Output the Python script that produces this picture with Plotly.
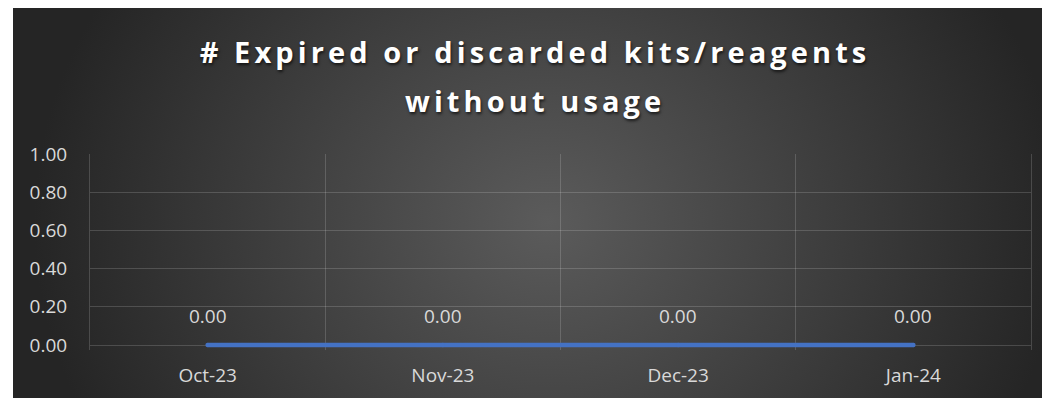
import base64
import plotly.graph_objects as go

# Monthly count of kits/reagents that expired or were discarded unused
months = ["Oct-23", "Nov-23", "Dec-23", "Jan-24"]
discarded = [0.00, 0.00, 0.00, 0.00]
y_ticks = [0.0, 0.2, 0.4, 0.6, 0.8, 1.0]
title_lines = ["# Expired or discarded kits/reagents", "without usage"]

W, H = 1042, 398
GRID = "rgba(255,255,255,0.16)"
LABEL = "#d9d9d9"
BLUE = "#4472C4"

# y runs from 0 (pixel row 345) to 1 (row 154); a small pad below 0 keeps
# the thick series line from being cut in half by the plot-area clip
Y_PAD = 0.025
PX_PER_UNIT = (345 - 154)
y_bottom_px = 345 + Y_PAD * PX_PER_UNIT

# Dark gradient chart background (bright centre, dark sides) as inline SVG
bg_svg = (
    "<svg xmlns='http://www.w3.org/2000/svg' width='1029' height='390' "
    "viewBox='0 0 1029 390' preserveAspectRatio='none'>"
    "<defs><radialGradient id='g' cx='0.52' cy='0.55' r='0.5' "
    "gradientTransform='translate(0.52 0.55) scale(1 2.3) translate(-0.52 -0.55)'>"
    "<stop offset='0' stop-color='#5b5b5b'/>"
    "<stop offset='1' stop-color='#252525'/>"
    "</radialGradient></defs>"
    "<rect width='1029' height='390' fill='url(#g)'/></svg>"
)
bg_uri = "data:image/svg+xml;base64," + base64.b64encode(bg_svg.encode()).decode()

fig = go.Figure()
fig.add_trace(go.Scatter(
    x=months, y=discarded,
    mode="lines+markers",
    line=dict(color=BLUE, width=4.5),
    marker=dict(color=BLUE, size=4.5),
    cliponaxis=False,
    hoverinfo="x+y",
    showlegend=False,
))

# Value labels above each point
for m, v in zip(months, discarded):
    fig.add_annotation(
        x=m, y=v, text=f"{v:.2f}", showarrow=False, yshift=29,
        font=dict(family="Open Sans", size=19, color=LABEL),
    )

fig.add_layout_image(dict(
    source=bg_uri, xref="paper", yref="paper",
    x=13 / W, y=390 / H, sizex=1029 / W, sizey=390 / H,
    xanchor="left", yanchor="top", sizing="stretch", layer="below",
))

title_font = dict(family="Open Sans", size=29, color="white", weight="bold",
                  shadow="1px 2px 3px rgba(0,0,0,0.65)")
spaced = '<span style="letter-spacing:4.1px">{}</span>'

# Second title line, set with the same font below the first
fig.add_annotation(
    text=spaced.format(title_lines[1]), showarrow=False,
    xref="paper", yref="paper", x=535 / W, y=1 - 101 / H,
    xanchor="center", yanchor="middle", font=title_font,
)

fig.update_layout(
    width=W, height=H,
    margin=dict(l=0, r=0, t=0, b=0, autoexpand=False),
    paper_bgcolor="white",
    plot_bgcolor="rgba(0,0,0,0)",
    title=dict(
        text=spaced.format(title_lines[0]),
        font=title_font,
        x=535 / W, xanchor="center", xref="paper",
        y=1 - 53 / H, yanchor="middle", yref="paper",
        automargin=False,
    ),
    xaxis=dict(
        type="category",
        domain=[90 / W, 1031 / W],
        range=[-0.5, 3.5],
        tickson="boundaries",
        showgrid=True, gridcolor=GRID, gridwidth=1,
        ticks="", showline=False, zeroline=False,
        tickfont=dict(family="Open Sans", size=19, color=LABEL),
        ticklabelstandoff=12,
        automargin=False,
        fixedrange=True,
    ),
    yaxis=dict(
        domain=[(H - y_bottom_px) / H, (H - 154) / H],
        range=[-Y_PAD, 1],
        tickvals=y_ticks,
        tickformat=".2f",
        showgrid=True, gridcolor=GRID, gridwidth=1,
        zeroline=False,
        showline=True, linecolor=GRID, linewidth=1, mirror=True,
        ticks="",
        tickfont=dict(family="Open Sans", size=19, color=LABEL),
        ticklabelstandoff=18,
        automargin=False,
        fixedrange=True,
    ),
)

fig.write_html("out.html")
